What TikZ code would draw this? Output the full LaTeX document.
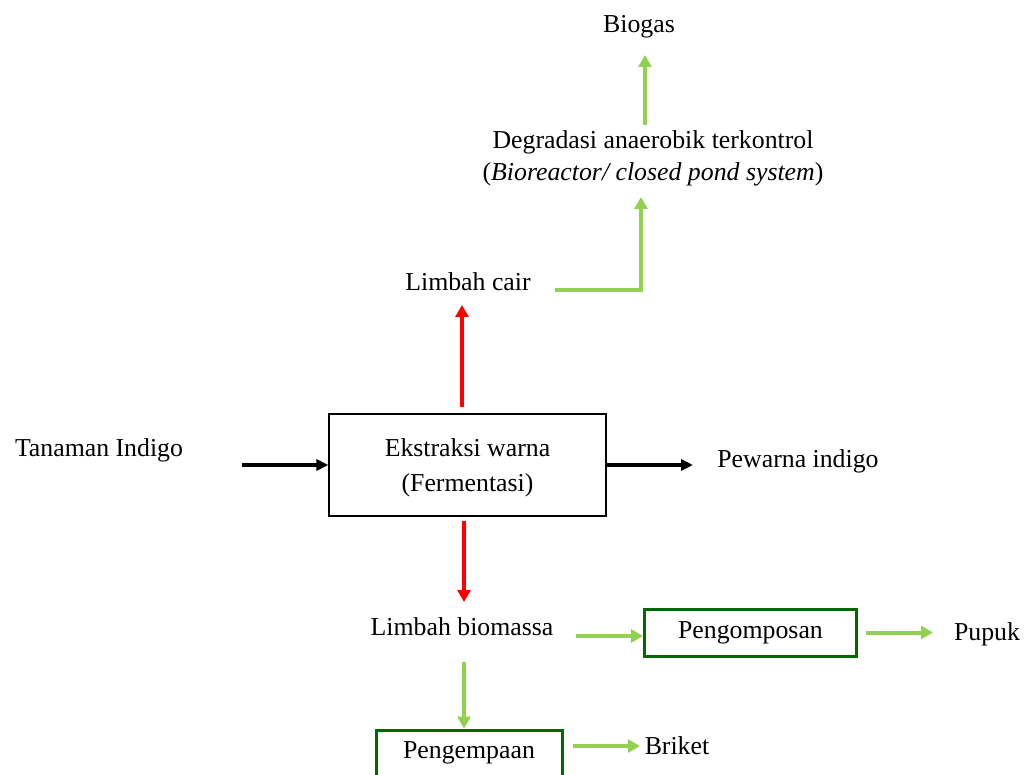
\documentclass[tikz,border=0pt]{standalone}
\usepackage{fontspec}
\setmainfont{Liberation Serif}
\usetikzlibrary{arrows.meta}
\definecolor{lightgreen}{RGB}{146,208,80}
\definecolor{darkgreen}{RGB}{0,105,0}
\begin{document}
\begin{tikzpicture}[x=0.5pt,y=-0.5pt,font=\fontsize{12.9}{16}\selectfont]
		\tikzstyle{txt}=[inner sep=0pt,align=center]
		\tikzstyle{proc}=[draw=darkgreen,line width=1.5pt,inner sep=0pt]
		\tikzstyle{garrow}=[draw=lightgreen,line width=2pt,-{Triangle[length=6pt,width=6.5pt]}]
		\tikzstyle{rarrow}=[draw=red,line width=2pt,-{Triangle[length=6pt,width=6.5pt]}]
		\tikzstyle{barrow}=[draw=black,line width=1.6pt,-{Triangle[length=6pt,width=5.5pt]}]

		\useasboundingbox (0,0) rectangle (1024,775);
		\clip (0,0) rectangle (1024,775);

		\node[draw,line width=0.6pt,minimum width=138.5pt,minimum height=51pt,align=center,
			inner sep=0pt,text depth=0pt](ekstr) at (467.5,465)
			{Ekstraksi warna\\[1.5pt](Fermentasi)};
		\node[txt](tanaman) at (99,450){Tanaman Indigo};
		\node[txt](pewarna) at (798,461){Pewarna indigo};
		\node[txt](cair) at (468,282){Limbah cair};
		\node[txt](degr) at (653,158){Degradasi anaerobik terkontrol\\(\textit{Bioreactor/ closed pond system})};
		\node[txt](biogas) at (639,27){Biogas};
		\node[txt](biomassa) at (462,627){Limbah biomassa};
		\node[proc,minimum width=106pt,minimum height=23.5pt](kompos) at (750.5,632.5){Pengomposan};
		\node[txt](pupuk) at (987,634){Pupuk};
		\node[proc,minimum width=93pt,minimum height=23pt](kempa) at (469,753){Pengempaan};
		\node[txt](briket) at (677,746){Briket};

		\coordinate (tanout) at (242,465);
		\coordinate (pewin) at (693,465);
		\coordinate (cairin) at (462,305);
		\coordinate (cairout) at (555,290);
		\coordinate (degrin) at (641,197);
		\coordinate (degrout) at (645,125);
		\coordinate (biogasin) at (645,55);
		\coordinate (bioin) at (464,602);
		\coordinate (bioout) at (576,636);
		\coordinate (biodown) at (464,662);
		\coordinate (pupukin) at (933,632.5);
		\coordinate (briketin) at (640,746);

		\draw[barrow] (tanout) -- (ekstr.west);
		\draw[barrow] (ekstr.east) -- (pewin);
		\draw[rarrow,shorten <=3pt] (ekstr.north -| cairin) -- (cairin);
		\draw[rarrow,shorten <=2pt] (ekstr.south -| bioin) -- (bioin);
		\draw[garrow] (cairout) -| (degrin);
		\draw[garrow] (degrout) -- (biogasin);
		\draw[garrow] (bioout) -- (bioout -| kompos.west);
		\draw[garrow,shorten <=4pt] (kompos.east) -- (pupukin);
		\draw[garrow] (biodown) -- (biodown |- kempa.north);
		\draw[garrow,shorten <=4.5pt] (kempa.east |- briketin) -- (briketin);
	\end{tikzpicture}
\end{document}
